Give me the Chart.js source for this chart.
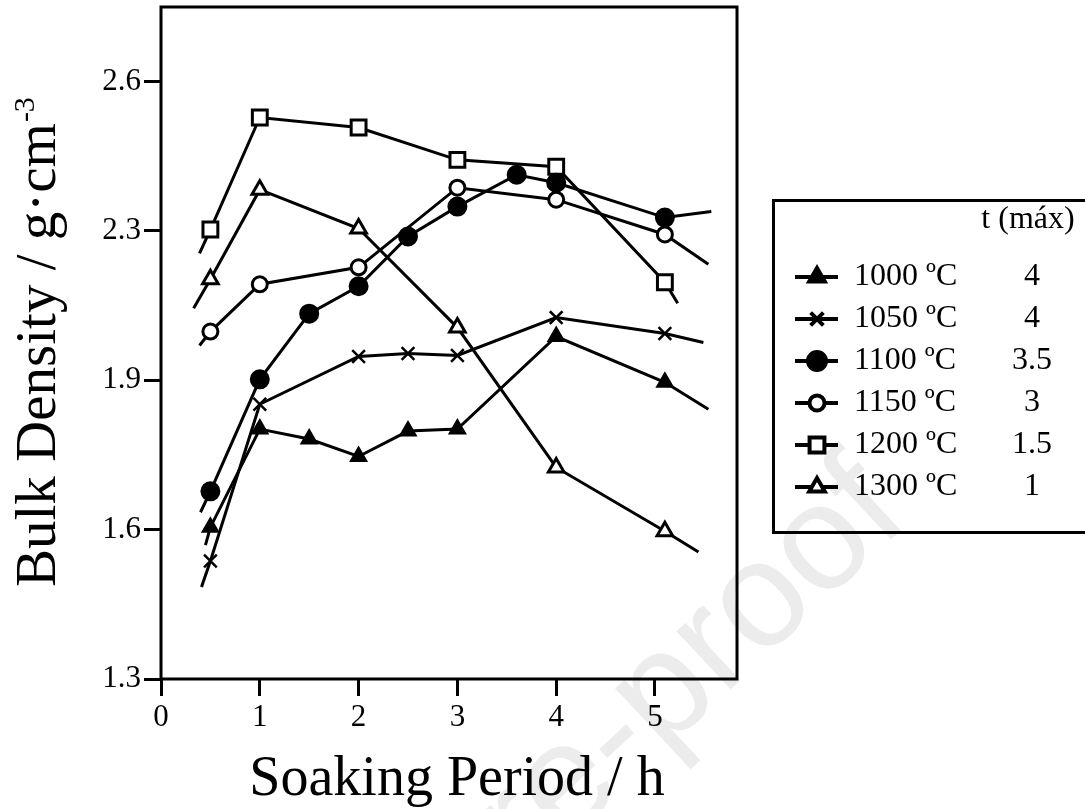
<!DOCTYPE html>
<html>
<head>
<meta charset="utf-8">
<script src="https://cdn.jsdelivr.net/npm/chart.js@4.4.0/dist/chart.umd.min.js"></script>
<style>
    html, body { margin: 0; padding: 0; background: #fff; }
</style>
</head>
<body>
<canvas id="chartDensity" width="1085" height="809"></canvas>
<script>
// soaking period (h) / bulk density, one pair per temperature
// first and last entries are the short line ends drawn without a marker
const t1000 = [0.45, 0.5, 1, 1.5, 2, 2.5, 3, 4, 5.1, 5.54];
const d1000 = [1.569, 1.605, 1.802, 1.782, 1.747, 1.798, 1.802, 1.988, 1.896, 1.842];
const t1050 = [0.41, 0.5, 1, 2, 2.5, 3, 4, 5.1, 5.49];
const d1050 = [1.485, 1.537, 1.852, 1.948, 1.954, 1.95, 2.026, 1.994, 1.976];
const t1100 = [0.4, 0.5, 1, 1.5, 2, 2.5, 3, 3.6, 4, 5.1, 5.57];
const d1100 = [1.635, 1.677, 1.902, 2.034, 2.089, 2.189, 2.249, 2.313, 2.297, 2.227, 2.239];
const t1150 = [0.39, 0.5, 1, 2, 3, 4, 5.1, 5.54];
const d1150 = [1.97, 1.998, 2.093, 2.127, 2.287, 2.263, 2.193, 2.133];
const t1200 = [0.39, 0.5, 1, 2, 3, 4, 5.1, 5.23];
const d1200 = [2.155, 2.203, 2.428, 2.408, 2.343, 2.329, 2.097, 2.055];
const t1300 = [0.33, 0.5, 1, 2, 3, 4, 5.1, 5.44];
const d1300 = [2.045, 2.103, 2.283, 2.205, 2.006, 1.725, 1.597, 1.555];

const seriesNames = ['1000 ºC', '1050 ºC', '1100 ºC', '1150 ºC', '1200 ºC', '1300 ºC'];
const tMax = ['4', '4', '3.5', '3', '1.5', '1'];

const xTicks = [0, 1, 2, 3, 4, 5];
const yTicks = [1.3, 1.6, 1.9, 2.2, 2.5];
const yTickLabels = ['1.3', '1.6', '1.9', '2.3', '2.6'];

const serif = "'Liberation Serif', 'Times New Roman', serif";
Chart.defaults.font.family = serif;
Chart.defaults.color = '#000';

function pts(xs, ys) {
    return xs.map((x, i) => ({ x: x, y: ys[i] }));
}

// marker looks: filled triangle, x, filled circle, open circle, open square, open triangle
const looks = [
    { style: 'triangle', r: 9, fill: '#000', bw: 2 },
    { style: 'crossRot', r: 9, fill: '#000', bw: 2.5 },
    { style: 'circle', r: 9, fill: '#000', bw: 2 },
    { style: 'circle', r: 7.5, fill: '#fff', bw: 3 },
    { style: 'rect', r: 10.5, fill: '#fff', bw: 3 },
    { style: 'triangle', r: 9, fill: '#fff', bw: 3 },
];
const allData = [pts(t1000, d1000), pts(t1050, d1050), pts(t1100, d1100),
                 pts(t1150, d1150), pts(t1200, d1200), pts(t1300, d1300)];

const datasets = allData.map((d, i) => ({
    label: seriesNames[i],
    data: d,
    borderColor: '#000',
    borderWidth: 3,
    tension: 0,
    pointStyle: looks[i].style,
    pointBackgroundColor: looks[i].fill,
    pointBorderColor: '#000',
    pointBorderWidth: looks[i].bw,
    pointRadius: (ctx) => (ctx.dataIndex === 0 || ctx.dataIndex === d.length - 1) ? 0 : looks[i].r,
    pointHoverRadius: 0,
}));

const framePlugin = {
    id: 'frame',
    beforeDraw(chart) {
        // faint journal watermark
        const ctx = chart.ctx;
        ctx.save();
        ctx.translate(912, 520);
        ctx.rotate(-43 * Math.PI / 180);
        ctx.font = "150px 'Liberation Sans', Arial, sans-serif";
        ctx.fillStyle = '#ececec';
        ctx.textAlign = 'right';
        ctx.textBaseline = 'alphabetic';
        ctx.fillText('Journal Pre-proof', 0, 0);
        ctx.restore();
    },
    afterDraw(chart) {
        const ctx = chart.ctx;
        const a = chart.chartArea;
        ctx.save();
        ctx.strokeStyle = '#000';
        ctx.lineWidth = 3;
        ctx.strokeRect(a.left, a.top, a.right - a.left, a.bottom - a.top);

        // axis titles
        ctx.fillStyle = '#000';
        ctx.textBaseline = 'alphabetic';
        ctx.textAlign = 'center';
        ctx.font = '56px ' + serif;
        ctx.fillText('Soaking Period / h', 457, 795);

        ctx.save();
        ctx.translate(55, 587);
        ctx.rotate(-Math.PI / 2);
        ctx.textAlign = 'left';
        ctx.font = '57px ' + serif;
        const main = 'Bulk Density / g·cm';
        ctx.fillText(main, 0, 0);
        const w = ctx.measureText(main).width;
        ctx.font = '30px ' + serif;
        ctx.fillText('-3', w + 1, -21);
        ctx.restore();

        // legend box with t (máx) column
        ctx.lineWidth = 3;
        ctx.strokeRect(773.5, 200.5, 340, 332);
        ctx.font = '32px ' + serif;
        ctx.textBaseline = 'middle';
        ctx.textAlign = 'center';
        ctx.fillText('t (máx)', 1028, 220);
        chart.data.datasets.forEach((ds, i) => {
            const y = 277 + i * 42;
            ctx.lineWidth = 4;
            ctx.beginPath();
            ctx.moveTo(795, y);
            ctx.lineTo(838, y);
            ctx.stroke();
            ctx.fillStyle = looks[i].fill;
            ctx.strokeStyle = '#000';
            Chart.helpers.drawPoint(ctx, {
                pointStyle: looks[i].style,
                rotation: 0,
                radius: looks[i].r,
                borderWidth: looks[i].bw,
            }, 817, y);
            ctx.fillStyle = '#000';
            ctx.textAlign = 'left';
            ctx.fillText(ds.label, 854, y);
            ctx.textAlign = 'center';
            ctx.fillText(tMax[i], 1032, y);
        });
        ctx.restore();
    },
};

new Chart(document.getElementById('chartDensity'), {
    type: 'line',
    data: { datasets: datasets },
    options: {
        responsive: false,
        animation: false,
        layout: { padding: { top: 7, right: 348, left: 0, bottom: 0 } },
        plugins: { legend: { display: false }, tooltip: { enabled: false } },
        scales: {
            x: {
                type: 'linear',
                min: 0,
                max: 5.83,
                afterBuildTicks: (s) => { s.ticks = xTicks.map((v) => ({ value: v })); },
                afterFit: (s) => { s.height = 130; s.paddingLeft = 0; s.paddingRight = 0; },
                border: { display: false },
                grid: { drawOnChartArea: false, drawTicks: true, tickLength: 17, tickWidth: 3, tickColor: '#000' },
                ticks: { font: { size: 31 }, color: '#000', padding: 3, maxRotation: 0 },
            },
            y: {
                type: 'linear',
                min: 1.3,
                max: 2.65,
                afterBuildTicks: (s) => { s.ticks = yTicks.map((v) => ({ value: v })); },
                afterFit: (s) => { s.width = 161; s.paddingTop = 0; s.paddingBottom = 0; },
                border: { display: false },
                grid: { drawOnChartArea: false, drawTicks: true, tickLength: 17, tickWidth: 3, tickColor: '#000' },
                ticks: {
                    font: { size: 31 },
                    color: '#000',
                    padding: 3,
                    callback: (v) => {
                        const k = yTicks.indexOf(v);
                        return k >= 0 ? yTickLabels[k] : '';
                    },
                },
            },
        },
    },
    plugins: [framePlugin],
});
</script>
</body>
</html>
